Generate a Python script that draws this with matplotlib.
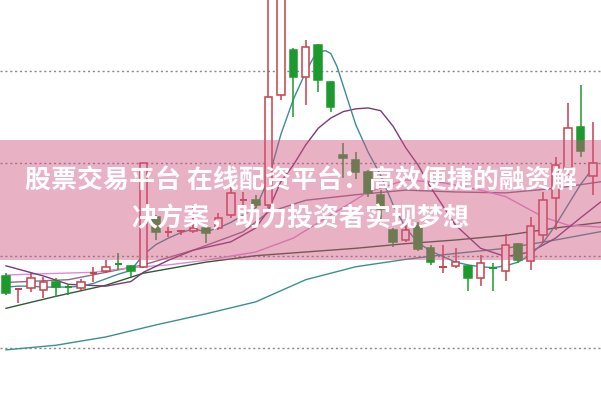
import matplotlib
matplotlib.use("Agg")
import matplotlib.pyplot as plt
from matplotlib.patches import Rectangle

# daily candles (price units, gridlines at 10/11/12/13)
opens = [10.78, 10.63, 10.65, 10.63, 10.72, 10.67, 10.65, 10.81, 10.83, 10.91, 10.89, 10.88,
         11.42, 11.25, 11.26, 11.27, 11.30, 11.30, 11.44, 11.60, 11.60, 11.55, 12.74, 13.23,
         12.93, 13.28, 12.88, 12.09, 12.04, 11.91, 11.66, 11.28, 11.17, 11.32, 11.08, 10.87,
         10.89, 10.89, 10.76, 10.87, 10.83, 11.13, 10.94, 11.22, 11.63, 11.95, 12.39, 11.86]
closes = [10.60, 10.64, 10.76, 10.72, 10.66, 10.66, 10.72, 10.82, 10.88, 10.90, 10.83, 12.00,
          11.26, 11.26, 11.27, 11.30, 11.25, 11.41, 11.68, 11.61, 11.55, 12.72, 13.99, 12.93,
          13.26, 12.90, 12.61, 12.06, 11.91, 11.68, 11.51, 11.15, 11.28, 11.07, 10.93, 10.88,
          10.93, 10.76, 10.92, 10.86, 11.12, 10.95, 11.32, 11.60, 11.98, 12.38, 12.13, 12.00]
highs = [10.81, 10.65, 10.81, 10.77, 10.76, 10.69, 10.75, 10.88, 10.95, 11.03, 10.90, 12.00,
         11.44, 11.31, 11.28, 11.55, 11.32, 11.46, 11.74, 11.69, 11.66, 13.85, 14.00, 13.25,
         13.34, 13.29, 12.89, 12.22, 12.12, 11.93, 11.71, 11.30, 11.33, 11.37, 11.12, 11.12,
         11.08, 10.90, 11.01, 10.92, 11.24, 11.14, 11.42, 11.69, 12.07, 12.65, 12.85, 12.45]
lows = [10.57, 10.49, 10.61, 10.54, 10.55, 10.57, 10.63, 10.72, 10.81, 10.85, 10.77, 10.87,
        11.17, 11.20, 11.22, 11.25, 11.14, 11.28, 11.41, 11.55, 11.52, 11.52, 12.69, 12.50,
        12.63, 12.77, 12.56, 11.84, 11.83, 11.64, 11.40, 11.09, 11.15, 11.05, 10.90, 10.81,
        10.87, 10.62, 10.67, 10.62, 10.73, 10.92, 10.85, 11.14, 11.28, 11.87, 12.07, 11.66]

ma_fast_x = [0, 1, 2, 3, 4, 5, 6, 7, 8, 9, 10, 11, 12, 13, 14, 15, 16, 17, 18, 19, 20, 21,
             22, 23, 24, 24.6, 25.1, 25.6, 26, 26.5, 27, 28, 29, 30, 31, 32, 33, 34, 35, 36,
             37, 38, 39, 40, 41, 42, 43, 44, 45, 46, 47]
ma_fast = [10.66, 10.67, 10.67, 10.66, 10.66, 10.66, 10.67, 10.70, 10.75, 10.80, 10.84, 11.01,
           11.12, 11.19, 11.25, 11.29, 11.26, 11.30, 11.36, 11.44, 11.52, 11.82, 12.31, 12.69,
           12.99, 13.14, 13.21, 13.22, 13.19, 13.05, 12.84, 12.42, 12.12, 11.87, 11.55, 11.30,
           11.14, 11.05, 10.99, 10.93, 10.90, 10.88, 10.87, 10.89, 10.93, 11.01, 11.14, 11.33,
           11.55, 11.77, 11.95]

purple_x = [0, 3, 5, 8, 10, 11, 13, 15, 18, 20, 21, 22, 23, 24, 25, 26, 27, 28, 29, 30, 31,
            32, 33, 34, 36, 38, 40, 42, 44, 46, 47.6]
purple_y = [10.89, 10.78, 10.69, 10.67, 10.72, 10.82, 10.95, 11.06, 11.15, 11.30, 11.49, 11.80,
            11.98, 12.20, 12.38, 12.49, 12.56, 12.59, 12.60, 12.57, 12.40, 12.17, 11.98, 11.74,
            11.33, 11.08, 10.99, 11.04, 11.19, 11.41, 11.58]

pink_x = [0, 2, 7, 10, 13, 16, 20, 23, 26, 29, 32, 35, 38, 40, 43, 45, 47.6]
pink_y = [10.79, 10.80, 10.82, 10.87, 10.90, 10.95, 11.04, 11.19, 11.44, 11.69, 11.82, 11.79,
          11.71, 11.64, 11.42, 11.33, 11.31]

mauve_x = [0, 5, 11, 15, 19, 21, 24, 28, 32, 36, 40, 44, 47.6]
mauve_y = [10.71, 10.74, 10.90, 11.06, 11.26, 11.47, 11.60, 11.66, 11.71, 11.69, 11.68, 11.73, 11.80]

dark_x = [0, 4, 8, 11, 16, 20, 24, 28, 32, 36, 40, 44, 47.6]
dark_y = [10.43, 10.56, 10.68, 10.81, 10.93, 11.00, 11.04, 11.08, 11.13, 11.17, 11.22, 11.30, 11.36]

slow_x = [0, 4, 8, 12, 16, 20, 24, 28, 32, 35, 40, 44, 47.6]
slow_y = [9.98, 10.03, 10.12, 10.25, 10.37, 10.50, 10.74, 10.88, 10.96, 11.01, 11.08, 11.17, 11.26]

grid_levels = [10, 11, 12, 13]

RED = "#c8404c"
GREEN = "#1c9a2e"

fig = plt.figure(figsize=(6.01, 4.0), dpi=100, facecolor="white")
ax = fig.add_axes([0, 0, 1, 1])
ax.set_xlim(-0.48, 47.64)
ax.set_ylim(9.437, 13.769)
ax.axis("off")

for g in grid_levels:
    ax.axhline(g, color="#888888", lw=1, ls=(0, (1.5, 2)), zorder=1)

# moving averages
line_kw = dict(lw=1.0, zorder=2, solid_joinstyle="round")
ax.plot(slow_x, slow_y, color="#3c9090", **line_kw)
ax.plot(dark_x, dark_y, color="#2e5a3a", **line_kw)
ax.plot(mauve_x, mauve_y, color="#8a6c88", **line_kw)
ax.plot(pink_x, pink_y, color="#e08ad8", **line_kw)
ax.plot(purple_x, purple_y, color="#7a3a78", **line_kw)
ax.plot(ma_fast_x, ma_fast, color="#3d8c98", **line_kw)

w = 0.6
for i, (o, c, h, l) in enumerate(zip(opens, closes, highs, lows)):
    up = c >= o
    col = RED if up else GREEN
    ax.vlines(i, l, h, color=col, lw=1.1, zorder=3)
    lo, hi = min(o, c), max(o, c)
    if hi - lo < 0.02:
        ax.hlines((o + c) / 2, i - w / 2, i + w / 2, color=col, lw=1.4, zorder=4)
    else:
        ax.add_patch(Rectangle((i - w / 2, lo), w, hi - lo,
                               facecolor="white" if up else col,
                               edgecolor=col, lw=1.1, zorder=4))

# translucent banner
ax.axhspan(10.95, 12.25, color="#d0547e", alpha=0.45, lw=0, zorder=5)

cjk = ["Noto Sans CJK SC", "DejaVu Sans"]
fig.text(0.5, 0.546, "股票交易平台 在线配资平台：高效便捷的融资解", ha="center", va="center",
         fontsize=18.7, fontweight="bold", color="white", family=cjk, zorder=10)
fig.text(0.5, 0.453, "决方案，助力投资者实现梦想", ha="center", va="center",
         fontsize=18.7, fontweight="bold", color="white", family=cjk, zorder=10)

fig.savefig("out.png", dpi=100, facecolor="white")
plt.close(fig)
